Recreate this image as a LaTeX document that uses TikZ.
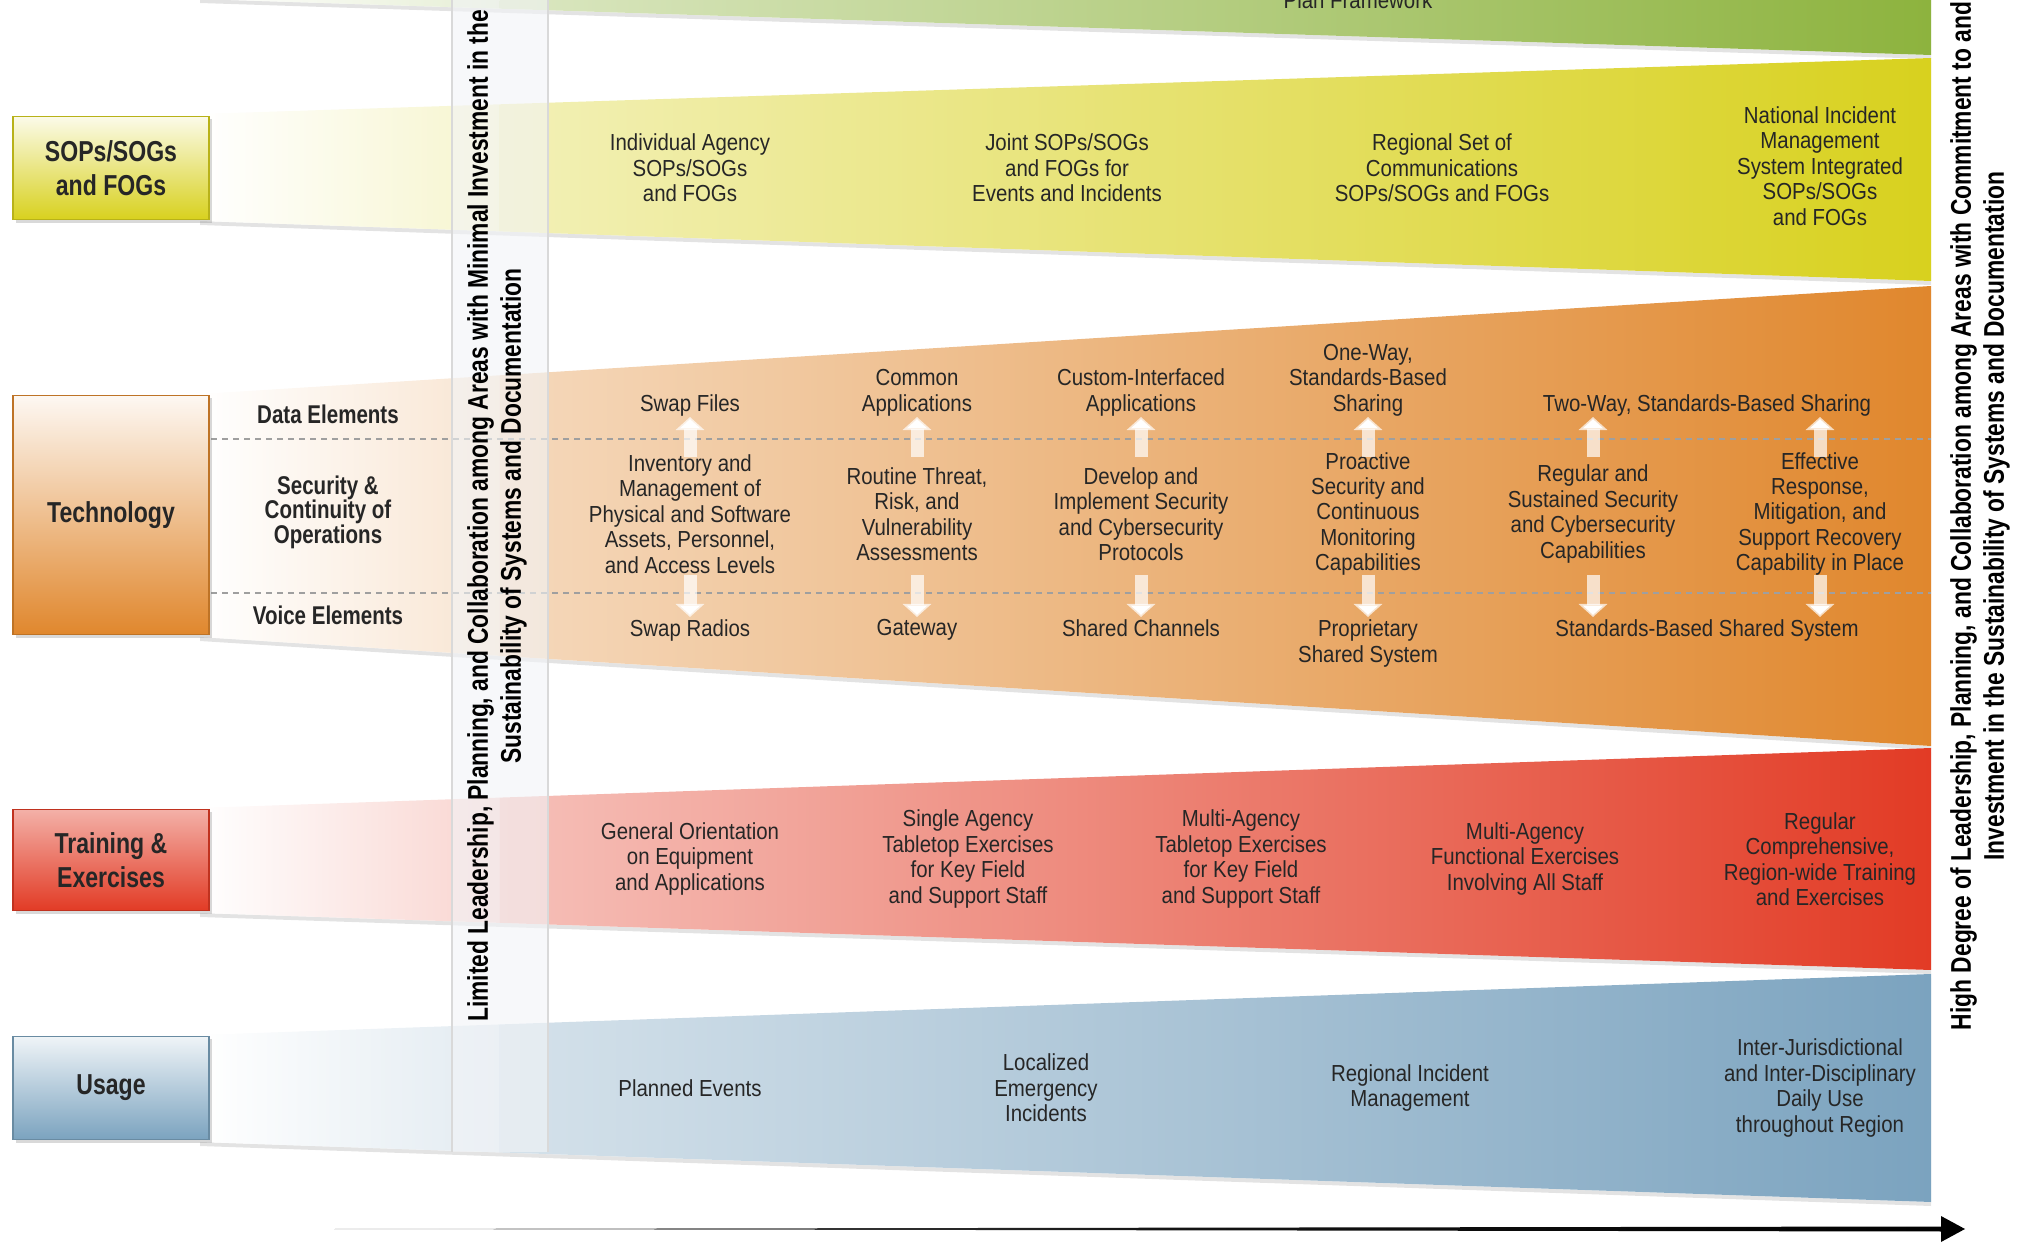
\documentclass[tikz,border=0pt]{standalone}
\usepackage{fontspec}
\setmainfont{Liberation Sans}
\newfontfamily\narrowsans{Liberation Sans}[FakeStretch=0.88]
\newfontfamily\condsans{Liberation Sans}[FakeStretch=0.8]
\usetikzlibrary{arrows.meta,shadows,calc}

\definecolor{bandgreen}{HTML}{8DB33E}
\definecolor{bandyellow}{HTML}{D8D11E}
\definecolor{bandorange}{HTML}{E0872D}
\definecolor{bandred}{HTML}{E23B25}
\definecolor{bandblue}{HTML}{7BA3BF}
\definecolor{ink}{HTML}{262626}
\definecolor{veil}{HTML}{F2F4F7}

\tikzset{
  rowbox/.style 2 args={draw=#1!85!black, line width=0.4pt, top color=#1!#2, bottom color=#1,
    minimum width=1.96cm, inner sep=0pt, align=center, text=ink,
    font=\condsans\bfseries\fontsize{8.2}{9.6}\selectfont,
    drop shadow={shadow xshift=0.03cm, shadow yshift=-0.03cm, opacity=0.3}},
  cell/.style={align=center, inner sep=0pt, text=ink, font=\narrowsans\fontsize{6.6}{7.25}\selectfont},
  sublabel/.style={align=center, inner sep=0pt, text=ink, font=\condsans\bfseries\fontsize{7.3}{7}\selectfont},
  sidetext/.style={align=center, inner sep=0pt, rotate=90, text=black,
    font=\condsans\bfseries\fontsize{8.1}{9.4}\selectfont},
  techrule/.style={draw=gray!75, line width=0.35pt, dash pattern=on 0.06cm off 0.05cm},
  hintarrow/.style={draw=white, draw opacity=0.7, line width=0.13cm, -{Triangle[width=0.28cm,length=0.13cm]}},
  bandshadow/.style={drop shadow={shadow xshift=0cm, shadow yshift=-0.04cm, opacity=0.22}},
}

\begin{document}
\begin{tikzpicture}[x=0.01cm, y=-0.01cm]
\useasboundingbox (0,0) rectangle (2023,1246);
\clip (0,0) rectangle (2023,1246);

%%%%%%%%%%%%%%%%% bands %%%%%%%%%%%%%%%%%%%
% colour / left top / left bottom / right top / right bottom
\foreach \col/\lt/\lb/\rt/\rb in {bandgreen/-120/-1/-170/55,
    bandyellow/114/221/58/281, bandorange/394/637/286/746,
    bandred/808/913/748/970, bandblue/1035/1142/974/1202}
 {\coordinate (tl) at (200,\lt);  \coordinate (bl) at (200,\lb);
  \coordinate (tr) at (1931,\rt); \coordinate (br) at (1931,\rb);
  \coordinate (tm) at ($(tl)!0.173!(tr)$);
  \coordinate (bm) at ($(bl)!0.173!(br)$);
  \fill[white, bandshadow] (tl) -- (tr) -- (br) -- (bl) -- cycle;
  \shade[left color=white, right color=\col!22] (tl) -- (tm) -- (bm) -- (bl) -- cycle;
  \shade[left color=\col!32, right color=\col] (tm) -- (tr) -- (br) -- (bm) -- cycle;}

%%%%%%%%%%%%%%%%% technology rules %%%%%%%%%%%%%%%%%%%
\coordinate (ruleA) at (200,439);  \coordinate (ruleAend) at (1931,439);
\coordinate (ruleB) at (200,593);  \coordinate (ruleBend) at (1931,593);
\draw[techrule] (ruleA) -- (ruleAend);
\draw[techrule] (ruleB) -- (ruleBend);

%%%%%%%%%%%%%%%%% veil column %%%%%%%%%%%%%%%%%%%
\fill[veil, opacity=0.6] (452,-5) rectangle (548,1152);
\draw[gray!30, line width=0.4pt] (452,-5) -- (452,1152) (548,-5) -- (548,1152);

%%%%%%%%%%%%%%%%% row boxes %%%%%%%%%%%%%%%%%%%
\node[rowbox={bandyellow}{10}, minimum height=1.03cm] (sops)  at (111,168)  {SOPs/SOGs\\and FOGs};
\node[rowbox={bandorange}{6},  minimum height=2.39cm] (tech)  at (111,515)  {Technology};
\node[rowbox={bandred}{40},    minimum height=1.01cm] (train) at (111,860)  {Training \&\\Exercises};
\node[rowbox={bandblue}{12},   minimum height=1.03cm] (usage) at (111,1088) {Usage};

\node[sublabel] (data)  at (328,414) {Data Elements};
\node[sublabel] (secu)  at (328,512) {Security \&\\Continuity of\\Operations};
\node[sublabel] (voice) at (328,615) {Voice Elements};

%%%%%%%%%%%%%%%%% cells %%%%%%%%%%%%%%%%%%%
\node[cell, anchor=base] (plan) at (1358,9) {Plan Framework};

\node[cell] (sops1) at (690,168)  {Individual Agency\\SOPs/SOGs\\and FOGs};
\node[cell] (sops2) at (1067,168) {Joint SOPs/SOGs\\and FOGs for\\Events and Incidents};
\node[cell] (sops3) at (1442,168) {Regional Set of\\Communications\\SOPs/SOGs and FOGs};
\node[cell] (sops4) at (1820,166) {National Incident\\Management\\System Integrated\\SOPs/SOGs\\and FOGs};

\node[cell, anchor=south] (data1) at (690,417)  {Swap Files};
\node[cell, anchor=south] (data2) at (917,417)  {Common\\Applications};
\node[cell, anchor=south] (data3) at (1141,417) {Custom-Interfaced\\Applications};
\node[cell, anchor=south] (data4) at (1368,417) {One-Way,\\Standards-Based\\Sharing};
\node[cell, anchor=south] (data5) at (1707,417) {Two-Way, Standards-Based Sharing};

\node[cell] (sec1) at (690,514)  {Inventory and\\Management of\\Physical and Software\\Assets, Personnel,\\and Access Levels};
\node[cell] (sec2) at (917,514)  {Routine Threat,\\Risk, and\\Vulnerability\\Assessments};
\node[cell] (sec3) at (1141,514) {Develop and\\Implement Security\\and Cybersecurity\\Protocols};
\node[cell] (sec4) at (1368,514) {Proactive\\Security and\\Continuous\\Monitoring\\Capabilities};
\node[cell] (sec5) at (1593,514) {Regular and\\Sustained Security\\and Cybersecurity\\Capabilities};
\node[cell] (sec6) at (1820,514) {Effective\\Response,\\Mitigation, and\\Support Recovery\\Capability in Place};

\node[cell, anchor=north] (voice1) at (690,619)  {Swap Radios};
\node[cell, anchor=north] (voice2) at (917,619)  {Gateway};
\node[cell, anchor=north] (voice3) at (1141,619) {Shared Channels};
\node[cell, anchor=north] (voice4) at (1368,619) {Proprietary\\Shared System};
\node[cell, anchor=north] (voice5) at (1707,619) {Standards-Based Shared System};

\node[cell] (train1) at (690,859)  {General Orientation\\on Equipment\\and Applications};
\node[cell] (train2) at (968,859)  {Single Agency\\Tabletop Exercises\\for Key Field\\and Support Staff};
\node[cell] (train3) at (1241,859) {Multi-Agency\\Tabletop Exercises\\for Key Field\\and Support Staff};
\node[cell] (train4) at (1525,859) {Multi-Agency\\Functional Exercises\\Involving All Staff};
\node[cell] (train5) at (1820,859) {Regular\\Comprehensive,\\Region-wide Training\\and Exercises};

\node[cell] (usage1) at (690,1088)  {Planned Events};
\node[cell] (usage2) at (1046,1088) {Localized\\Emergency\\Incidents};
\node[cell] (usage3) at (1410,1088) {Regional Incident\\Management};
\node[cell] (usage4) at (1820,1088) {Inter-Jurisdictional\\and Inter-Disciplinary\\Daily Use\\throughout Region};

%%%%%%%%%%%%%%%%% white arrows %%%%%%%%%%%%%%%%%%%
\coordinate (upfoot) at (0,457);   \coordinate (uptip) at (0,417);
\coordinate (downfoot) at (0,575); \coordinate (downtip) at (0,617);
\foreach \n in {1,...,6}
 {\draw[hintarrow] (sec\n |- upfoot) -- (sec\n |- uptip);
  \draw[hintarrow] (sec\n |- downfoot) -- (sec\n |- downtip);}

%%%%%%%%%%%%%%%%% side texts %%%%%%%%%%%%%%%%%%%
\node[sidetext] (lowend) at (497,516) {Limited Leadership, Planning, and Collaboration among Areas with Minimal Investment in the\\Sustainability of Systems and Documentation};
\node[sidetext] (highend) at (1980,516) {High Degree of Leadership, Planning, and Collaboration among Areas with Commitment to and\\Investment in the Sustainability of Systems and Documentation};

%%%%%%%%%%%%%%%%% axis %%%%%%%%%%%%%%%%%%%
\coordinate (axisL) at (334,1229);
\coordinate (axisR) at (1965,1229);
\shade[left color=black!60, right color=black, middle color=black!92]
  (axisL) -- ($(axisR)+(-24,-2.5)$) -- ($(axisR)+(-24,-13)$) -- (axisR)
  -- ($(axisR)+(-24,13)$) -- ($(axisR)+(-24,2.5)$) -- cycle;
\end{tikzpicture}
\end{document}
